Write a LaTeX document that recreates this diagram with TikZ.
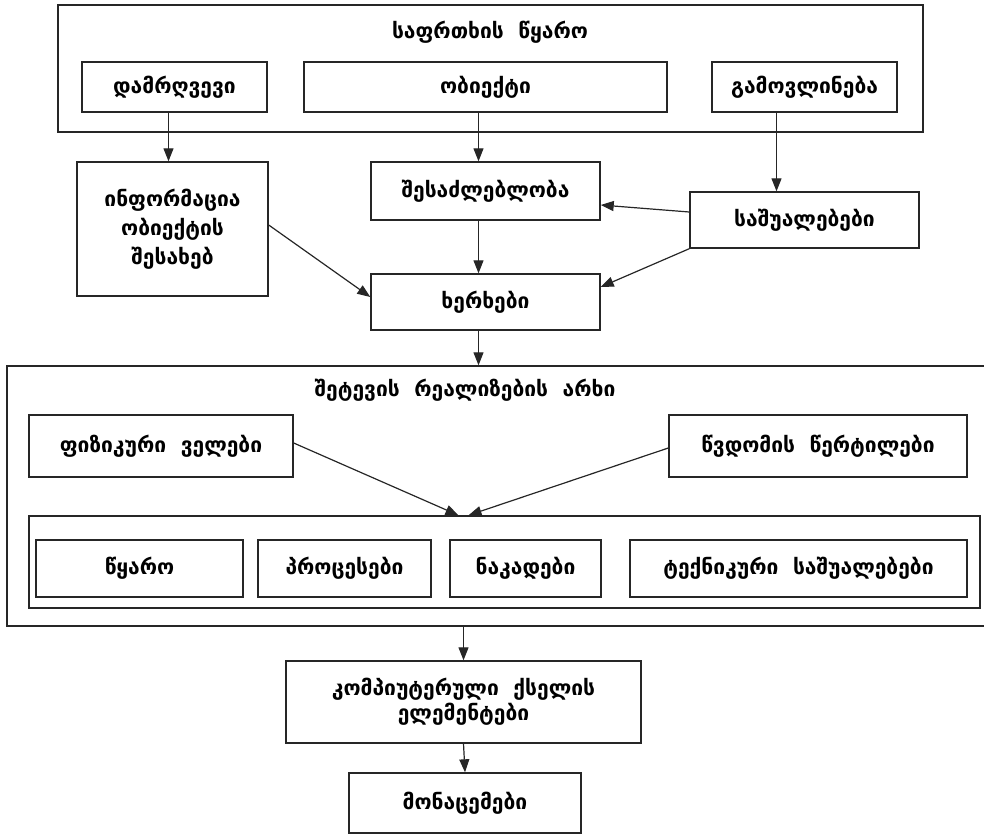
\documentclass[tikz,border=0pt]{standalone}
\usepackage{fontspec}
\setmainfont{DejaVu Sans}
\usetikzlibrary{arrows.meta}

\begin{document}
\begin{tikzpicture}[x=1pt,y=-1pt,font=\fontsize{21}{29}\selectfont\bfseries,
  box/.style={draw=black!85,line width=1.4pt,inner sep=0pt,align=center},
  arr/.style={-{Triangle[length=13pt,width=10pt]},line width=1.2pt,draw=black!85}]
\useasboundingbox (0,0) rectangle (984,835);
\node[box,minimum width=865,minimum height=127] (src) at (490.5,68.5) {};
\node (srctitle) at (490,32) {საფრთხის\ \ წყარო};
\node[box,minimum width=185,minimum height=50] (viol) at (174.5,87) {დამრღვევი};
\node[box,minimum width=363,minimum height=50] (obj) at (485.5,87) {ობიექტი};
\node[box,minimum width=185,minimum height=50] (manif) at (804.5,87) {გამოვლინება};
\node[box,minimum width=191,minimum height=134] (info) at (172.5,229) {ინფორმაცია\\ობიექტის\\შესახებ};
\node[box,minimum width=229,minimum height=58] (poss) at (485.5,191) {შესაძლებლობა};
\node[box,minimum width=229,minimum height=56] (means) at (804.5,220) {საშუალებები};
\node[box,minimum width=229,minimum height=56] (ways) at (485.5,302) {ხერხები};
\node[box,minimum width=985,minimum height=260] (chan) at (499.5,496) {};
\node (chantitle) at (465,390) {შეტევის\ \ რეალიზების\ \ არხი};
\node[box,minimum width=264,minimum height=62] (fields) at (161,446) {ფიზიკური\ \ ველები};
\node[box,minimum width=298,minimum height=62] (access) at (818,446) {წვდომის\ \ წერტილები};
\node[box,minimum width=951,minimum height=92] (cont) at (504.5,562) {};
\foreach \n/\x/\w/\t in {src1/139.5/207/წყარო,proc/344.5/173/პროცესები,flow/525.5/151/ნაკადები,tech/798.5/337/{ტექნიკური\ \ საშუალებები}}
  \node[box,minimum width=\w,minimum height=57] (\n) at (\x,568.5) {\t};
\node[box,minimum width=355,minimum height=82] (komp) at (463.5,702) {კომპიუტერული\ \ ქსელის\\[-4pt]ელემენტები};
\node[box,minimum width=232,minimum height=60] (data) at (465,803) {მონაცემები};
\draw[arr] ([xshift=-6pt]viol.south) -- ([xshift=-6pt]viol.south |- info.north);
\draw[arr] ([xshift=-7pt]obj.south) -- ([xshift=-7pt]obj.south |- poss.north);
\draw[arr] ([xshift=-28pt]manif.south) -- ([xshift=-28pt]manif.south |- means.north);
\draw[arr] ([xshift=-7pt]poss.south) -- ([xshift=-7pt]poss.south |- ways.north);
\draw[arr] ([yshift=8pt]means.west) -- ([yshift=-14pt]poss.east);
\draw[arr] (means.south west) -- ([yshift=15pt]ways.east);
\draw[arr] ([yshift=4pt]info.east) -- ([yshift=5pt]ways.west);
\draw[arr] ([xshift=-7pt]ways.south) -- ([xshift=-7pt]ways.south |- chan.north);
\draw[arr] ([yshift=3pt]fields.east) -- ([xshift=-46pt]cont.north);
\draw[arr] ([yshift=-2pt]access.west) -- ([xshift=-36pt]cont.north);
\draw[arr] (komp.north |- chan.south) -- (komp.north);
\draw[arr] (komp.south) -- (data.north);
\end{tikzpicture}
\end{document}
